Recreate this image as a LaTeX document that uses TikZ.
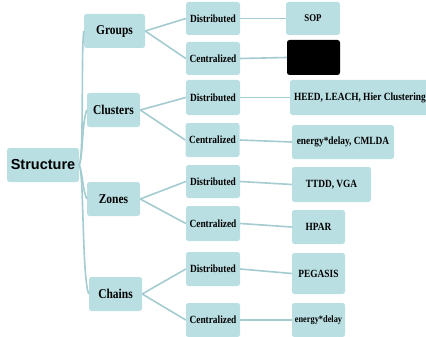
\documentclass[tikz,border=0pt]{standalone}
\usepackage{fontspec}
\setmainfont{Liberation Serif}
\setsansfont{Liberation Sans}
\newfontfamily\narrowserif[FakeStretch=0.85]{Liberation Serif}
\usepackage{tikz}
\usetikzlibrary{positioning, calc}
\definecolor{boxfill}{HTML}{B9DFE3}
\definecolor{linkcol}{HTML}{A3CBD0}
\tikzset{
  treebox/.style={
    rounded corners=2.5pt, fill=boxfill, align=center, inner sep=1pt,
    font=\narrowserif\bfseries
  },
  rootbox/.style={
    treebox, minimum width=72pt, minimum height=34pt,
    font=\sffamily\bfseries\fontsize{14.5}{16}\selectfont
  },
  kindbox/.style={
    treebox, minimum width=53pt, minimum height=34pt,
    font=\narrowserif\bfseries\fontsize{13.5}{15}\selectfont
  },
  modebox/.style={
    treebox, minimum width=54pt, minimum height=34pt,
    font=\narrowserif\bfseries\fontsize{11}{12}\selectfont
  },
  protobox/.style={
    treebox, minimum width=53pt, minimum height=34pt,
    font=\narrowserif\bfseries\fontsize{11}{12}\selectfont
  },
  treelink/.style={draw=linkcol, line width=1.6pt},
}
\begin{document}
\begin{tikzpicture}[x=1pt, y=-1pt]
  \useasboundingbox (0,0) rectangle (426,337);

  % ── Root ──
  \node[rootbox] (structure) at (43,165) {Structure};

  % ── Kinds ──
  \node[kindbox, minimum width=61pt] (groups) at (114.5,31) {Groups};
  \node[kindbox] (clusters) at (113.5,110) {Clusters};
  \node[kindbox] (zones) at (113.5,199) {Zones};
  \node[kindbox] (chains) at (115.5,294) {Chains};

  % ── Modes ──
  \node[modebox, minimum height=33pt] (grpdist) at (213,18.5) {Distributed};
  \node[modebox, minimum height=33pt] (grpcent) at (213,58.5) {Centralized};
  \node[modebox, minimum height=35pt] (cludist) at (213,97.5) {Distributed};
  \node[modebox] (clucent) at (212.5,140) {Centralized};
  \node[modebox, minimum height=33pt] (zondist) at (213,181.5) {Distributed};
  \node[modebox, minimum height=35pt] (zoncent) at (213,223.5) {Centralized};
  \node[modebox] (chadist) at (213,269) {Distributed};
  \node[modebox] (chacent) at (213,320) {Centralized};

  % ── Protocols ──
  \node[protobox, minimum width=54pt, minimum height=33pt, font=\narrowserif\bfseries\fontsize{10.4}{12}\selectfont] (sop) at (313,18.5) {SOP};
  \node[protobox, fill=black, minimum height=35pt] (hidden) at (313.5,57.5) {};
  \node[protobox, minimum width=140pt, minimum height=35pt] (heed) at (360,97.5) {HEED, LEACH, Hier Clustering};
  \node[protobox, minimum width=102pt] (cmlda) at (343,142) {energy*delay, CMLDA};
  \node[protobox, minimum width=79pt, minimum height=35pt] (ttdd) at (331.5,184.5) {TTDD, VGA};
  \node[protobox] (hpar) at (318.5,227) {HPAR};
  \node[protobox, minimum height=41pt] (pegasis) at (318.5,273.5) {PEGASIS};
  \node[protobox, font=\narrowserif\bfseries\fontsize{9.8}{11}\selectfont] (edelay) at (318.5,320) {energy*delay};

  % ── Root links ──
  \draw[treelink] (structure.east) .. controls (84,158) and (81,50) .. (groups.west);
  \draw[treelink] (structure.east) .. controls (83,156) and (82,122) .. (clusters.west);
  \draw[treelink] (structure.east) .. controls (83,174) and (82,188) .. (zones.west);
  \draw[treelink] (structure.east) .. controls (84,172) and (82,280) .. (chains.west);

  % ── Kind links ──
  \draw[treelink] (groups.east) -- (grpdist.west);
  \draw[treelink] (groups.east) -- (grpcent.west);
  \draw[treelink] (clusters.east) -- (cludist.west);
  \draw[treelink] (clusters.east) -- (clucent.west);
  \draw[treelink] (zones.east) -- (zondist.west);
  \draw[treelink] (zones.east) -- (zoncent.west);
  \draw[treelink] (chains.east) -- (chadist.west);
  \draw[treelink] (chains.east) -- (chacent.west);

  % ── Mode links ──
  \draw[treelink] (grpdist.east) -- (sop.west);
  \draw[treelink] (grpcent.east) -- (hidden.west);
  \draw[treelink] (cludist.east) -- (heed.west);
  \draw[treelink] (clucent.east) -- (cmlda.west);
  \draw[treelink] (zondist.east) -- (ttdd.west);
  \draw[treelink] (zoncent.east) -- (hpar.west);
  \draw[treelink] (chadist.east) -- (pegasis.west);
  \draw[treelink] (chacent.east) -- (edelay.west);
\end{tikzpicture}
\end{document}
